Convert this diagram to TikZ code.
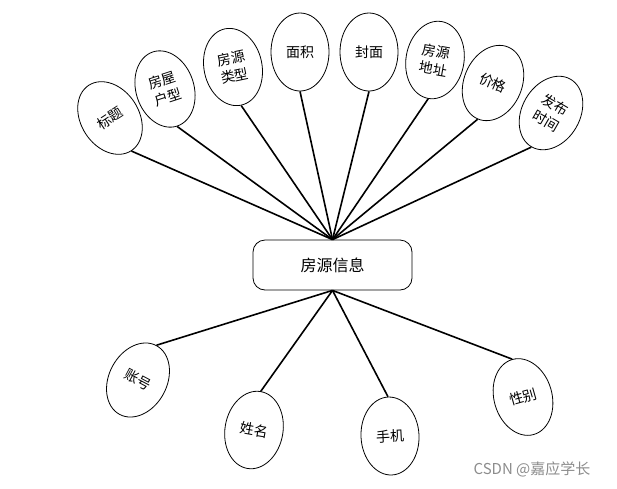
\documentclass[tikz,border=0pt]{standalone}
\usepackage{fontspec}
\newfontfamily\cjk{Noto Sans CJK SC}
\usetikzlibrary{shapes.geometric}
\begin{document}
\begin{tikzpicture}[x=1pt,y=-1pt,
  attr/.style={ellipse,draw,line width=0.8pt,minimum width=58pt,minimum height=78pt,inner sep=0pt,align=center,font=\cjk\fontsize{14}{18}\selectfont},
  link/.style={line width=1.6pt},
  ent/.style={draw,line width=0.8pt,rounded corners=12pt,minimum width=159pt,minimum height=50pt,inner sep=0pt,font=\cjk\fontsize{16}{18}\selectfont},
  wmark/.style={text=black!45,font=\cjk\fontsize{15}{18}\selectfont,inner sep=0pt}]
\useasboundingbox (0,0) rectangle (617,488);
\node[ent] (e) at (332.5,265) {房源信息};
% top attributes
\node[attr,rotate=33] (a1) at (110,118) {标题};
\node[attr,rotate=18] (a2) at (165,89) {房屋\\户型};
\node[attr,rotate=12] (a3) at (233,67) {房源\\类型};
\node[attr] (a4) at (300,52) {面积};
\node[attr] (a5) at (369,52) {封面};
\node[attr,rotate=-10] (a6) at (435,60) {房源\\地址};
\node[attr,rotate=-23] (a7) at (493,83) {价格};
\node[attr,rotate=-30] (a8) at (551,113) {发布\\时间};
% bottom attributes
\node[attr,rotate=-28] (b1) at (138,380) {账号};
\node[attr,rotate=-10] (b2) at (254,430) {姓名};
\node[attr,rotate=3] (b3) at (390,436) {手机};
\node[attr,rotate=16] (b4) at (523,397) {性别};
\foreach \n in {a1,a2,a3,a4,a5,a6,a7,a8}
  \draw[link] (e.north) -- (\n.south);
\foreach \n in {b1,b2,b3,b4}
  \draw[link] (e.south) -- (\n.north);
\node[wmark] (wm) at (532,469) {CSDN @嘉应学长};
\end{tikzpicture}
\end{document}
